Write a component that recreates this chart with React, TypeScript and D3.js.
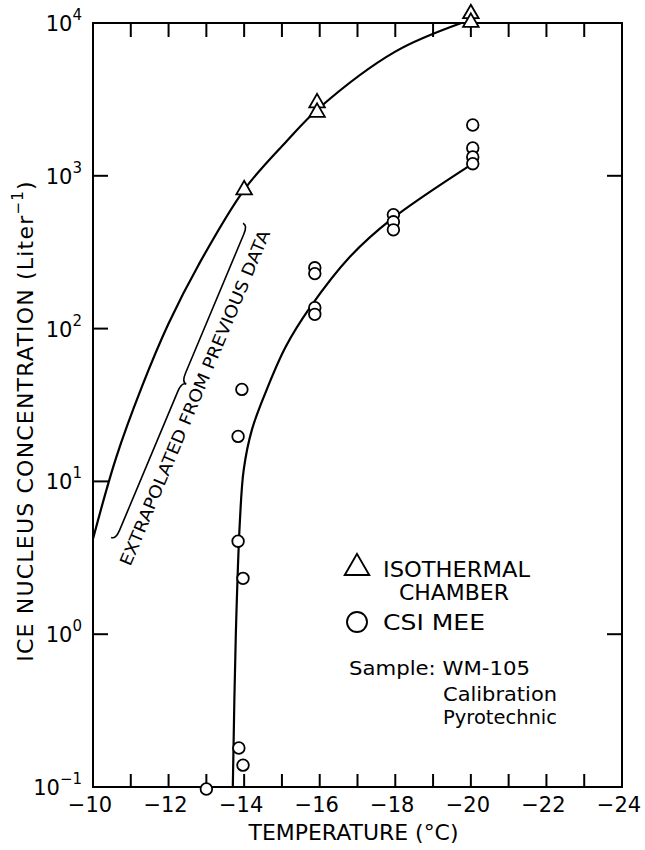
import * as d3 from 'd3';

// isothermal chamber (triangles)
const chamberTemp = [-14, -15.93, -15.93, -20, -20];
const chamberConc = [810, 3000, 2600, 11500, 10100];

// CSI MEE (circles)
const meeTemp = [-13.0, -13.97, -13.86, -13.97, -13.84, -13.84, -13.94, -15.87, -15.87, -15.87, -15.87, -17.95, -17.95, -17.95, -20.05, -20.05, -20.05, -20.05];
const meeConc = [0.097, 0.139, 0.18, 2.32, 4.06, 19.7, 40, 250, 229, 137, 124, 556, 500, 443, 2150, 1520, 1330, 1200];

// hand-drawn fit curves
const upperTemp = [-10, -10.6, -11.3, -12, -12.8, -14, -15.1, -16, -18, -19.75];
const upperConc = [4.2, 14, 42, 108, 263, 810, 1660, 2800, 6500, 10000];
const lowerTemp = [-13.7, -13.78, -13.89, -13.99, -14.21, -14.6, -15.1, -15.75, -16.8, -17.9, -20];
const lowerConc = [0.1, 1, 5.65, 12, 22, 40, 76, 138, 295, 520, 1180];

const xTickLabels = [-10, -12, -14, -16, -18, -20, -22, -24];
const decades = [-1, 0, 1, 2, 3, 4];
const rightTicks = [0, 3];

const braceStart = { t: -10.48, c: 4.3 };
const braceEnd = { t: -13.97, c: 490 };
const noteAt = { t: -12.72, c: 35 };

const W = 645, H = 850;
const m = { left: 93, right: 23, top: 23, bottom: 63 };
const font = '"DejaVu Sans", Arial, sans-serif';

function bracePath(x1: number, y1: number, x2: number, y2: number, h: number, r: number) {
  const L = Math.hypot(x2 - x1, y2 - y1);
  const ux = (x2 - x1) / L, uy = (y2 - y1) / L;
  // normal pointing to the text side
  const nx = -uy, ny = ux;
  const sx = nx > 0 ? 1 : -1;
  const px = (s: number, t: number) => {
    const k = -t * sx;
    return `${x1 + s * ux + k * nx},${y1 + s * uy + k * ny}`;
  };
  return `M${px(0, 0)} Q${px(0, -h / 2)} ${px(r, -h / 2)} L${px(L / 2 - r, -h / 2)} Q${px(L / 2, -h / 2)} ${px(L / 2, -h)} Q${px(L / 2, -h / 2)} ${px(L / 2 + r, -h / 2)} L${px(L - r, -h / 2)} Q${px(L, -h / 2)} ${px(L, 0)}`;
}

export default function App() {
  const x = d3.scaleLinear().domain([-10, -24]).range([m.left, W - m.right]);
  const y = d3.scaleLog().domain([0.1, 10000]).range([H - m.bottom, m.top]);
  const line = d3.line<[number, number]>().x((d) => x(d[0])).y((d) => y(d[1])).curve(d3.curveCatmullRom.alpha(0.5));
  const upper = line(upperTemp.map((t, i) => [t, upperConc[i]]))!;
  const lower = line(lowerTemp.map((t, i) => [t, lowerConc[i]]))!;
  const tri = d3.symbol().type(d3.symbolTriangle).size(105)()!;

  const x0 = x.range()[0], x1 = x.range()[1];
  const y0 = y.range()[0], y1 = y.range()[1];
  const minorX = d3.range(-11, -23.5, -1);

  const bx1 = x(braceStart.t), by1 = y(braceStart.c), bx2 = x(braceEnd.t), by2 = y(braceEnd.c);
  const angle = (Math.atan2(by2 - by1, bx2 - bx1) * 180) / Math.PI;

  return (
    <svg width={W} height={H} style={{ position: 'absolute', left: 0, top: 0, background: '#fff' }} fontFamily={font}>
      <rect x={0} y={0} width={W} height={H} fill="#fff" />
      <g stroke="#000" strokeWidth={2} fill="none">
        <rect x={x0} y={y1} width={x1 - x0} height={y0 - y1} />
        {minorX.map((t) => (
          <g key={t}>
            <line x1={x(t)} x2={x(t)} y1={y1} y2={y1 + 14} />
            <line x1={x(t)} x2={x(t)} y1={y0} y2={y0 - 13} />
          </g>
        ))}
        {decades.map((d) => (
          <line key={d} x1={x0} x2={x0 + 15} y1={y(10 ** d)} y2={y(10 ** d)} />
        ))}
        {rightTicks.map((d) => (
          <line key={d} x1={x1} x2={x1 - 15} y1={y(10 ** d)} y2={y(10 ** d)} />
        ))}
      </g>

      <g fill="#000" fontSize={21} textAnchor="middle">
        {xTickLabels.map((t) => (
          <text key={t} x={x(t) - 3} y={y0 + 25}>
            {'\u2212' + Math.abs(t)}
          </text>
        ))}
        {decades.map((d) => (
          <text key={d} x={x0 - 11} y={y(10 ** d) + 8} textAnchor="end">
            10
            <tspan fontSize={15} dy={-11}>
              {d < 0 ? '\u2212' + Math.abs(d) : d}
            </tspan>
          </text>
        ))}
        <text x={(x0 + x1) / 2 - 4} y={y0 + 53} textLength={210} lengthAdjust="spacingAndGlyphs">
          TEMPERATURE (°C)
        </text>
        <text transform={`translate(33,${(160 + 682) / 2}) rotate(-90)`} fontSize={22} letterSpacing={1.2}>
          ICE NUCLEUS CONCENTRATION (Liter
          <tspan fontSize={15} dy={-10}>−1</tspan>
          <tspan dy={10}>)</tspan>
        </text>
      </g>

      <path d={upper} fill="none" stroke="#000" strokeWidth={2.2} />
      <path d={lower} fill="none" stroke="#000" strokeWidth={2.2} />

      <g fill="#fff" stroke="#000" strokeWidth={1.8}>
        {chamberTemp.map((t, i) => (
          <path key={i} d={tri} transform={`translate(${x(t)},${y(chamberConc[i])})`} />
        ))}
        {meeTemp.map((t, i) => (
          <circle key={i} cx={x(t)} cy={y(meeConc[i])} r={5.8} />
        ))}
      </g>

      <path d={bracePath(bx1, by1, bx2, by2, 10, 10)} fill="none" stroke="#000" strokeWidth={1.6} />
      <text
        transform={`translate(${x(noteAt.t)},${y(noteAt.c)}) rotate(${angle})`}
        textAnchor="middle"
        dominantBaseline="middle"
        fontSize={17}
        textLength={362}
        lengthAdjust="spacingAndGlyphs"
        fill="#000"
      >
        EXTRAPOLATED FROM PREVIOUS DATA
      </text>

      <g fill="#000">
        <path d={d3.symbol().type(d3.symbolTriangle).size(260)()!} transform="translate(357,568)" fill="none" stroke="#000" strokeWidth={1.9} />
        <circle cx={357} cy={622} r={10} fill="none" stroke="#000" strokeWidth={1.9} />
        <text x={383} y={577} fontSize={21} textLength={147} lengthAdjust="spacingAndGlyphs">ISOTHERMAL</text>
        <text x={399} y={600} fontSize={21} textLength={110} lengthAdjust="spacingAndGlyphs">CHAMBER</text>
        <text x={383} y={630} fontSize={21} textLength={102} lengthAdjust="spacingAndGlyphs">CSI MEE</text>
        <text x={349} y={675} fontSize={20} textLength={181} lengthAdjust="spacingAndGlyphs">Sample: WM-105</text>
        <text x={443} y={701} fontSize={20} textLength={114} lengthAdjust="spacingAndGlyphs">Calibration</text>
        <text x={443} y={724} fontSize={20} textLength={114} lengthAdjust="spacingAndGlyphs">Pyrotechnic</text>
      </g>
    </svg>
  );
}
